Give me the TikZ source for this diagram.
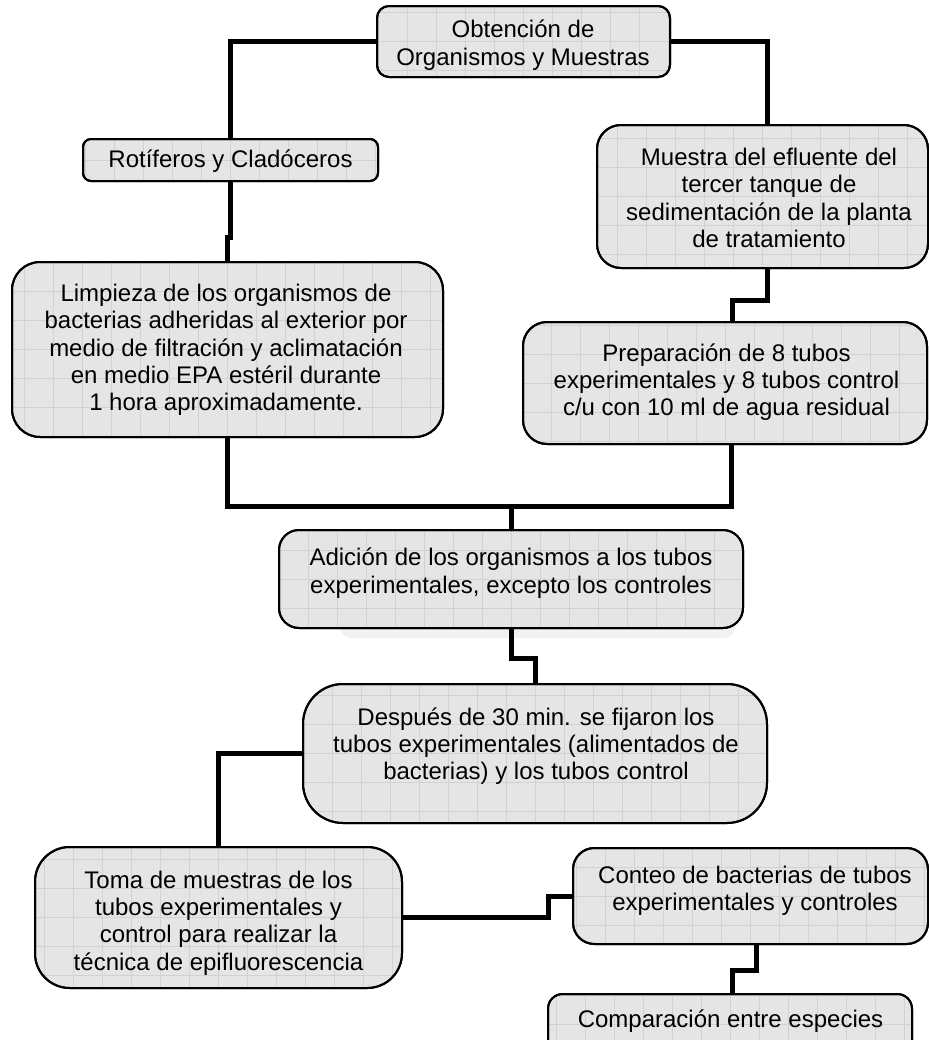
\documentclass[tikz,border=0pt]{standalone}
\usepackage{fontspec}
\setmainfont{Liberation Sans}
\usetikzlibrary{calc}
\definecolor{boxfill}{RGB}{229,229,229}
\definecolor{gridcol}{RGB}{210,210,210}
\definecolor{shadowcol}{RGB}{242,242,242}
\tikzset{
  box/.style={draw=black, line width=1.5pt, fill=boxfill, inner sep=0pt, outer sep=0pt,
    path picture={\draw[gridcol, line width=0.6pt, step=21.75pt]
      (path picture bounding box.south west) grid (path picture bounding box.north east);}},
  txt/.style={align=center, inner sep=0pt, font=\fontsize{18pt}{20.5pt}\selectfont},
  conn/.style={line width=3.75pt, line join=miter, line cap=butt}
}
\begin{document}
\begin{tikzpicture}[x=0.75pt,y=-0.75pt]
\useasboundingbox (0,0) rectangle (929,1040);
\clip (0,0) rectangle (929,1040);
% shadow under Adicion box
\fill[shadowcol, rounded corners=8pt] (340,585) rectangle (735,638);
% boxes
\node[box, rounded corners=9pt,  minimum width=219.75pt, minimum height=53.25pt]  (obt) at (523.5,41.5) {};
\node[box, rounded corners=6pt,  minimum width=221.25pt, minimum height=31.5pt]   (rot) at (230.5,160) {};
\node[box, rounded corners=18pt, minimum width=248.25pt, minimum height=107.25pt] (mue) at (762.5,196.5) {};
\node[box, rounded corners=21pt, minimum width=323.25pt, minimum height=131.25pt] (lim) at (227.5,349.5) {};
\node[box, rounded corners=18pt, minimum width=303pt,    minimum height=91.5pt]   (pre) at (725,383) {};
\node[box, rounded corners=15pt, minimum width=348pt,    minimum height=73.5pt]   (adi) at (511,579) {};
\node[box, rounded corners=30pt, minimum width=348pt,    minimum height=104.25pt] (des) at (535,753.5) {};
\node[box, rounded corners=26pt, minimum width=275.25pt, minimum height=105.75pt] (tom) at (218.5,917.5) {};
\node[box, rounded corners=16pt, minimum width=266.25pt, minimum height=72pt]     (con) at (750.5,896) {};
\node[box, rounded corners=11pt, minimum width=273pt,    minimum height=45.75pt]  (cmp) at (730,1024.5) {};
% connectors
\draw[conn] (obt.west) -| (rot.north);
\draw[conn] (obt.east) -| ($(mue.north)+(5,0)$);
\draw[conn] (rot.south) -- ++(0,56) -| (lim.north);
\draw[conn] ($(mue.south)+(5,0)$) -- ++(0,32) -| ($(pre.north)+(7,0)$);
\draw[conn] (lim.south) -- ++(0,69) -| ($(pre.south)+(6,0)$);
\draw[conn] (adi.north) -- ++(0,-24);
\draw[conn] (adi.south) -- ++(0,30) -| (des.north);
\draw[conn] (des.west) -| (tom.north);
\draw[conn] (tom.east) -- ++(146,0) |- (con.west);
\draw[conn] ($(con.south)+(5.5,0)$) -- ++(0,26) -| ($(cmp.north)+(2,0)$);
% redraw box borders over connector ends
\foreach \n/\r in {obt/9pt,rot/6pt,mue/18pt,lim/21pt,pre/18pt,adi/15pt,des/30pt,tom/26pt,con/16pt,cmp/11pt}{
  \draw[line width=1.5pt, rounded corners=\r] (\n.south west) rectangle (\n.north east);
}
% texts
\node[txt] (obtT) at (523,45) {Obtención de\\Organismos y Muestras};
\node[txt] (rotT) at (230.5,161) {Rotíferos y Cladóceros};
\node[txt] (mueT) at (769,198) {Muestra del efluente del\\tercer tanque de\\sedimentación de la planta\\de tratamiento};
\node[txt] (limT) at (226,350) {Limpieza de los organismos de\\bacterias adheridas al exterior por\\medio de filtración y aclimatación\\en medio EPA estéril durante\\1 hora aproximadamente.};
\node[txt] (preT) at (726.5,382) {Preparación de 8 tubos\\experimentales y 8 tubos control\\c/u con 10 ml de agua residual};
\node[txt] (adiT) at (511,573) {Adición de los organismos a los tubos\\experimentales, excepto los controles};
\node[txt] (desT) at (536,746) {Después de 30 min. se fijaron los\\tubos experimentales (alimentados de\\bacterias) y los tubos control};
\node[txt] (tomT) at (218.5,923) {Toma de muestras de los\\tubos experimentales y\\control para realizar la\\técnica de epifluorescencia};
\node[txt] (conT) at (755,891) {Conteo de bacterias de tubos\\experimentales y controles};
\node[txt] (cmpT) at (730.5,1021) {Comparación entre especies};
\end{tikzpicture}
\end{document}
